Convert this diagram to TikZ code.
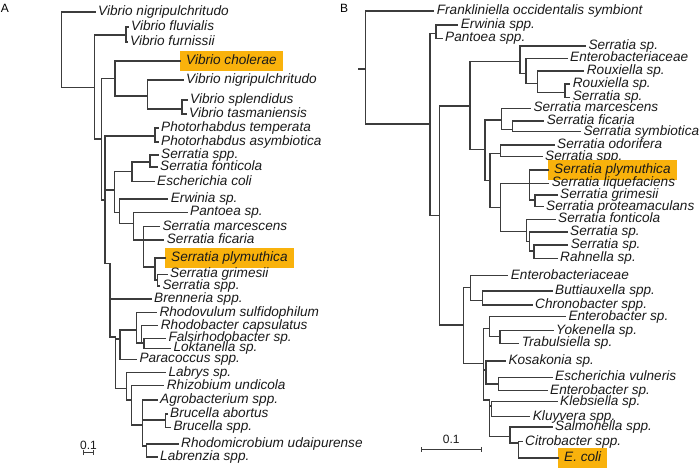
\documentclass[tikz,border=0pt]{standalone}
\usepackage{fontspec}
\setmainfont{Liberation Sans}
\definecolor{hlOrange}{HTML}{F9B20C}
\definecolor{treeGray}{HTML}{3C3C3C}
\definecolor{labelDark}{HTML}{1A1A1A}
\usetikzlibrary{arrows.meta}

\begin{document}
\begin{tikzpicture}[
        x=1pt, y=-1pt,
        taxon/.style={anchor=west, inner xsep=3pt, inner ysep=0pt, text height=10pt, text depth=3pt,
                      text=labelDark, font=\fontsize{13.6}{14}\selectfont\itshape},
        picked/.style={taxon, fill=hlOrange, inner xsep=6pt, minimum height=20pt},
        branch/.style={draw=treeGray, line width=1.3pt, line cap=rect},
        scalebar/.style={draw=treeGray, line width=1.1pt, {Bar[width=5pt]}-{Bar[width=5pt]}},
        panel/.style={inner sep=0pt, font=\fontsize{12}{12}\selectfont}
      ]
        \useasboundingbox (0,0) rectangle (700,468);

        % panel A
        \node[panel] (labA) at (5,8) {A};
        \coordinate (aR) at (61.7,50);
        \coordinate (aN1) at (94.3,87.7);
        \coordinate (aN2) at (126,35);
        \coordinate (aN3) at (101.7,139);
        \coordinate (aN4) at (115,78.3);
        \coordinate (aN6) at (147.3,96);
        \coordinate (aN7) at (182,109);
        \coordinate (aN5) at (105,200);
        \coordinate (aN8) at (155,136);
        \coordinate (aN9) at (114.3,190);
        \coordinate (aN11) at (132,171.7);
        \coordinate (aN13) at (150,162);
        \coordinate (aN12) at (119.3,212.7);
        \coordinate (aN14) at (133.3,223.3);
        \coordinate (aN15) at (143.3,240);
        \coordinate (aN16) at (155,267);
        \coordinate (aN17) at (157.5,280);
        \coordinate (aN10) at (110,263.3);
        \coordinate (aN18) at (115.7,337);
        \coordinate (aN24) at (120,339);
        \coordinate (aN25) at (136.7,330);
        \coordinate (aN26) at (141.7,343);
        \coordinate (aN27) at (144,343);
        \coordinate (aN19) at (126.7,388.3);
        \coordinate (aN20) at (131.7,400);
        \coordinate (aN21) at (142.7,425);
        \coordinate (aN22) at (165.7,420);
        \coordinate (aN23) at (146.7,446);

        \node[taxon] (a1) at (95,12) {Vibrio nigripulchritudo};
        \node[taxon] (a2) at (128,27) {Vibrio fluvialis};
        \node[taxon] (a3) at (127,42) {Vibrio furnissii};
        \node[picked] (a4) at (180,61) {Vibrio cholerae};
        \node[taxon] (a5) at (183,80) {Vibrio nigripulchritudo};
        \node[taxon] (a6) at (187,100) {Vibrio splendidus};
        \node[taxon] (a7) at (186,114) {Vibrio tasmaniensis};
        \node[taxon] (a8) at (158,128) {Photorhabdus temperata};
        \node[taxon] (a9) at (158,142) {Photorhabdus asymbiotica};
        \node[taxon] (a10) at (158,155) {Serratia spp.};
        \node[taxon] (a11) at (157,167) {Serratia fonticola};
        \node[taxon] (a12) at (154,181.7) {Escherichia coli};
        \node[taxon] (a13) at (167.7,199) {Erwinia sp.};
        \node[taxon] (a14) at (187,212.3) {Pantoea sp.};
        \node[taxon] (a15) at (159.3,226.7) {Serratia marcescens};
        \node[taxon] (a16) at (163.7,240) {Serratia ficaria};
        \node[picked] (a17) at (165,258) {Serratia plymuthica};
        \node[taxon] (a18) at (167,274.3) {Serratia grimesii};
        \node[taxon] (a19) at (159.3,286) {Serratia spp.};
        \node[taxon] (a20) at (151,299) {Brenneria spp.};
        \node[taxon] (a21) at (156.3,312.7) {Rhodovulum sulfidophilum};
        \node[taxon] (a22) at (157.7,325.5) {Rhodobacter capsulatus};
        \node[taxon] (a23) at (165.3,338.3) {Falsirhodobacter sp.};
        \node[taxon] (a24) at (170.3,348.3) {Loktanella sp.};
        \node[taxon] (a25) at (136.3,359.3) {Paracoccus spp.};
        \node[taxon] (a26) at (165.3,372.7) {Labrys sp.};
        \node[taxon] (a27) at (163.7,385.5) {Rhizobium undicola};
        \node[taxon] (a28) at (157,400) {Agrobacterium spp.};
        \node[taxon] (a29) at (167,414) {Brucella abortus};
        \node[taxon] (a30) at (170.3,427.3) {Brucella spp.};
        \node[taxon] (a31) at (178,444) {Rhodomicrobium udaipurense};
        \node[taxon] (a32) at (157,457) {Labrenzia spp.};

        \foreach \p/\c in {aR/a1, aR/aN1, aN1/aN2, aN1/aN3, aN2/a2, aN2/a3,
                           aN3/aN4, aN3/aN5, aN4/a4, aN4/aN6, aN6/a5, aN6/aN7, aN7/a6, aN7/a7,
                           aN5/aN8, aN5/aN9, aN5/aN10, aN8/a8, aN8/a9,
                           aN9/aN11, aN9/aN12, aN11/aN13, aN11/a12, aN13/a10, aN13/a11,
                           aN12/a13, aN12/aN14, aN14/a14, aN14/aN15,
                           aN15/a15, aN15/a16, aN15/aN16, aN16/a17, aN16/aN17, aN17/a18, aN17/a19,
                           aN10/a20, aN10/aN18, aN18/aN24, aN18/aN19,
                           aN24/aN25, aN24/a25, aN25/a21, aN25/aN26, aN26/a22, aN26/aN27, aN27/a23, aN27/a24,
                           aN19/a26, aN19/aN20, aN20/a27, aN20/aN21,
                           aN21/a28, aN21/aN22, aN21/aN23, aN22/a29, aN22/a30, aN23/a31, aN23/a32}
          \draw[branch] (\p) |- (\c);

        \coordinate (sbA1) at (82.7,452.7);
        \coordinate (sbA2) at (94.3,452.7);
        \draw[scalebar] (sbA1) -- node[above=3pt, font=\fontsize{12}{12}\selectfont, text=labelDark, inner sep=0pt] (sbAtxt) {0.1} (sbA2);

        % panel B
        \node[panel] (labB) at (344,8) {B};
        \coordinate (bS) at (358.3,69);
        \coordinate (bR) at (365.7,69);
        \coordinate (bN1) at (430,124);
        \coordinate (bN2) at (436,33.3);
        \coordinate (bN3) at (439.3,215.7);
        \coordinate (bN4) at (470,106);
        \coordinate (bN6) at (520,61.7);
        \coordinate (bN8) at (526,73.3);
        \coordinate (bN9) at (537.3,83.3);
        \coordinate (bN10) at (565,92.7);
        \coordinate (bN7) at (485,149.3);
        \coordinate (bN11) at (501.7,120);
        \coordinate (bN13) at (512.7,129.3);
        \coordinate (bN12) at (490,180.7);
        \coordinate (bN14) at (500.7,153.3);
        \coordinate (bN15) at (500.7,207.3);
        \coordinate (bN16) at (529.3,183.3);
        \coordinate (bN18) at (535,200);
        \coordinate (bN17) at (526.7,231.7);
        \coordinate (bN19) at (529.3,241.7);
        \coordinate (bN20) at (534,251);
        \coordinate (bN5) at (463.3,325);
        \coordinate (bN21) at (470.7,287.3);
        \coordinate (bN23) at (482.7,300.5);
        \coordinate (bN22) at (483.3,363.3);
        \coordinate (bN24) at (489.3,328.3);
        \coordinate (bN27) at (500,336.7);
        \coordinate (bN25) at (486,370);
        \coordinate (bN28) at (498.3,384);
        \coordinate (bN26) at (489.3,400);
        \coordinate (bN29) at (491.7,406);
        \coordinate (bN30) at (510,436.7);
        \coordinate (bN31) at (518.3,443);

        \node[taxon] (b1) at (433.7,11) {Frankliniella occidentalis symbiont};
        \node[taxon] (b2) at (457.7,25) {Erwinia spp.};
        \node[taxon] (b3) at (442,38.3) {Pantoea spp.};
        \node[taxon] (b4) at (585.3,46) {Serratia sp.};
        \node[taxon] (b5) at (567,58.3) {Enterobacteriaceae};
        \node[taxon] (b6) at (583.7,71) {Rouxiella sp.};
        \node[taxon] (b7) at (569.7,84) {Rouxiella sp.};
        \node[taxon] (b8) at (569.7,97.3) {Serratia sp.};
        \node[taxon] (b9) at (530.3,108.3) {Serratia marcescens};
        \node[taxon] (b10) at (543.7,121) {Serratia ficaria};
        \node[taxon] (b11) at (580.3,131.5) {Serratia symbiotica};
        \node[taxon] (b12) at (554,145) {Serratia odorifera};
        \node[taxon] (b13) at (542,156.5) {Serratia spp.};
        \node[picked] (b14) at (548,170) {Serratia plymuthica};
        \node[taxon] (b15) at (548.7,183.3) {Serratia liquefaciens};
        \node[taxon] (b16) at (557,195) {Serratia grimesii};
        \node[taxon] (b17) at (543,206.5) {Serratia proteamaculans};
        \node[taxon] (b18) at (555,219.3) {Serratia fonticola};
        \node[taxon] (b19) at (567,232) {Serratia sp.};
        \node[taxon] (b20) at (567.7,245) {Serratia sp.};
        \node[taxon] (b21) at (557,258.3) {Rahnella sp.};
        \node[taxon] (b22) at (507.7,275.5) {Enterobacteriaceae};
        \node[taxon] (b23) at (552,291) {Buttiauxella spp.};
        \node[taxon] (b24) at (532,305) {Chronobacter spp.};
        \node[taxon] (b25) at (565.3,316.5) {Enterobacter sp.};
        \node[taxon] (b26) at (553,330.7) {Yokenella sp.};
        \node[taxon] (b27) at (518.7,343.3) {Trabulsiella sp.};
        \node[taxon] (b28) at (505.3,361) {Kosakonia sp.};
        \node[taxon] (b29) at (552,377.3) {Escherichia vulneris};
        \node[taxon] (b30) at (547,390.7) {Enterobacter sp.};
        \node[taxon] (b31) at (557,401.7) {Klebsiella sp.};
        \node[taxon] (b32) at (529.7,416.7) {Kluyvera spp.};
        \node[taxon] (b33) at (552,427) {Salmonella spp.};
        \node[taxon] (b34) at (522,441.7) {Citrobacter spp.};
        \node[picked] (b35) at (558,458) {E. coli};

        \draw[branch] (bS) -- (bR);
        \foreach \p/\c in {bR/b1, bR/bN1, bN1/bN2, bN1/bN3, bN2/b2, bN2/b3,
                           bN3/bN4, bN3/bN5, bN4/bN6, bN4/bN7,
                           bN6/b4, bN6/bN8, bN8/b5, bN8/bN9, bN9/b6, bN9/bN10, bN10/b7, bN10/b8,
                           bN7/bN11, bN7/bN12, bN11/b9, bN11/bN13, bN13/b10, bN13/b11,
                           bN12/bN14, bN12/bN15, bN14/b12, bN14/b13,
                           bN15/bN16, bN15/bN17, bN16/b14, bN16/b15, bN16/bN18, bN18/b16, bN18/b17,
                           bN17/b18, bN17/bN19, bN19/b19, bN19/bN20, bN20/b20, bN20/b21,
                           bN5/bN21, bN5/bN22, bN21/b22, bN21/bN23, bN23/b23, bN23/b24,
                           bN22/bN24, bN22/bN25, bN22/bN26, bN24/b25, bN24/bN27, bN27/b26, bN27/b27,
                           bN25/b28, bN25/bN28, bN28/b29, bN28/b30,
                           bN26/bN29, bN26/bN30, bN29/b31, bN29/b32, bN30/b33, bN30/bN31, bN31/b34, bN31/b35}
          \draw[branch] (\p) |- (\c);

        \coordinate (sbB1) at (420.7,449.3);
        \coordinate (sbB2) at (481.7,449.3);
        \draw[scalebar] (sbB1) -- node[above=5pt, font=\fontsize{12}{12}\selectfont, text=labelDark, inner sep=0pt] (sbBtxt) {0.1} (sbB2);
      \end{tikzpicture}
\end{document}
